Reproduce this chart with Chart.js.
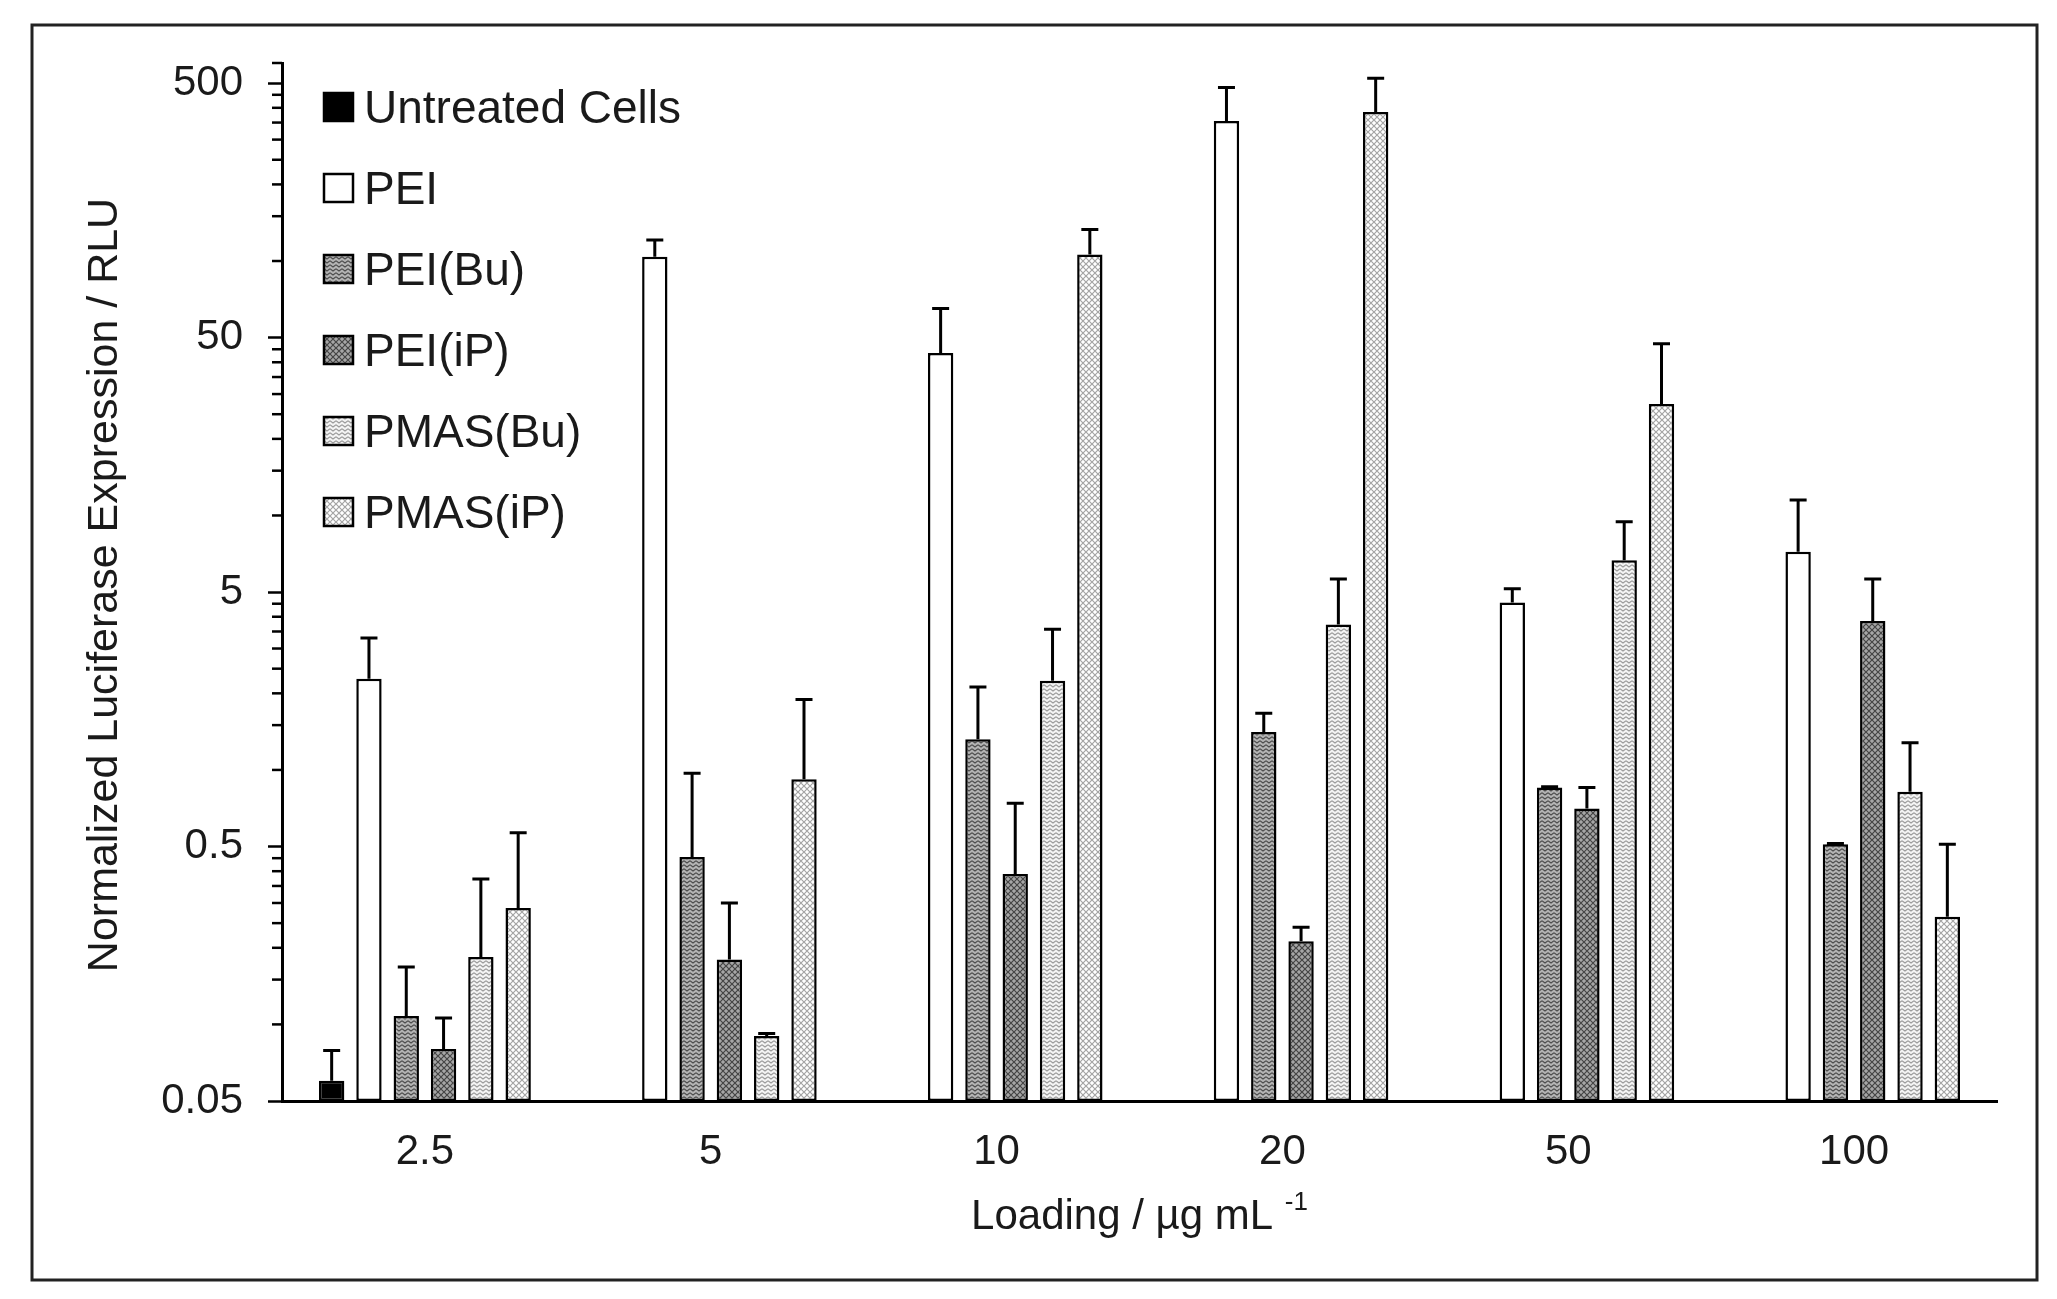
<!DOCTYPE html>
<html>
<head>
<meta charset="utf-8">
<script src="https://cdn.jsdelivr.net/npm/chart.js@4.4.1/dist/chart.umd.min.js"></script>
<style>
html, body { margin: 0; padding: 0; background: #fff; }
#wrap { width: 2057px; height: 1299px; }
</style>
</head>
<body>
<div id="wrap"><canvas id="lucChart" width="2057" height="1299"></canvas></div>
<script>
// loadings (x categories) and series
const loadings = ['2.5', '5', '10', '20', '50', '100'];
const seriesNames = ['Untreated Cells', 'PEI', 'PEI(Bu)', 'PEI(iP)', 'PMAS(Bu)', 'PMAS(iP)'];

const untreated = [0.06, null, null, null, null, null];
const pei       = [2.28, 104, 43.5, 355, 4.55, 7.2];
const peiBu     = [0.108, 0.455, 1.32, 1.41, 0.854, 0.51];
const peiIP     = [0.080, 0.18, 0.39, 0.212, 0.706, 3.85];
const pmasBu    = [0.184, 0.09, 2.24, 3.73, 6.67, 0.82];
const pmasIP    = [0.287, 0.92, 106, 385, 27.4, 0.265];

// upper error (SD)
const untreatedErr = [0.019, null, null, null, null, null];
const peiErr       = [1.02, 17, 21.5, 126, 0.6, 4.3];
const peiBuErr     = [0.06, 0.515, 0.8, 0.26, 0.005, 0.004];
const peiIPErr     = [0.026, 0.12, 0.35, 0.029, 0.148, 1.78];
const pmasBuErr    = [0.189, 0.002, 1.33, 1.9, 2.78, 0.46];
const pmasIPErr    = [0.279, 0.97, 27, 138, 19.9, 0.245];

const majorTicks = [0.05, 0.5, 5, 50, 500];
const yMin = 0.05, yMax = 600;

const FONT = "'Liberation Sans', Arial, sans-serif";

function zigzag(bg, fg) {
    const c = document.createElement('canvas');
    c.width = 6; c.height = 4;
    const g = c.getContext('2d');
    g.fillStyle = bg; g.fillRect(0, 0, 6, 4);
    g.strokeStyle = fg; g.lineWidth = 1.1;
    g.beginPath();
    g.moveTo(0, 0.8); g.lineTo(3, 3); g.lineTo(6, 0.8);
    g.stroke();
    return g.createPattern(c, 'repeat');
}

function hatch(bg, fg) {
    const c = document.createElement('canvas');
    c.width = 6; c.height = 6;
    const g = c.getContext('2d');
    g.fillStyle = bg; g.fillRect(0, 0, 6, 6);
    g.strokeStyle = fg; g.lineWidth = 1.2;
    g.beginPath();
    g.moveTo(0, 0); g.lineTo(6, 6);
    g.moveTo(6, 0); g.lineTo(0, 6);
    g.stroke();
    return g.createPattern(c, 'repeat');
}

const fills = [
    '#000000',
    '#ffffff',
    zigzag('#b4b4b4', '#4e4e4e'),
    hatch('#a6a6a6', '#444444'),
    zigzag('#f4f4f4', '#9c9c9c'),
    hatch('#ffffff', '#a4a4a4')
];

const seriesData = [untreated, pei, peiBu, peiIP, pmasBu, pmasIP];
const seriesErr = [untreatedErr, peiErr, peiBuErr, peiIPErr, pmasBuErr, pmasIPErr];

const yTicks = [];
majorTicks.forEach(m => {
    yTicks.push(m);
    if (m < 500) for (let k = 2; k <= 9; k++) yTicks.push(m * k);
});
yTicks.push(yMax);

const errorBars = {
    id: 'errorBars',
    afterDatasetsDraw(chart) {
        const ctx = chart.ctx, y = chart.scales.y;
        ctx.save();
        ctx.strokeStyle = '#000';
        ctx.lineWidth = 3;
        chart.data.datasets.forEach((ds, i) => {
            chart.getDatasetMeta(i).data.forEach((bar, j) => {
                const v = ds.data[j], e = ds.errors[j];
                if (v == null || e == null) return;
                const top = y.getPixelForValue(v + e);
                ctx.beginPath();
                ctx.moveTo(bar.x, bar.y);
                ctx.lineTo(bar.x, top);
                ctx.moveTo(bar.x - 8.5, top);
                ctx.lineTo(bar.x + 8.5, top);
                ctx.stroke();
            });
        });
        ctx.restore();
    }
};

const decorations = {
    id: 'decorations',
    beforeDraw(chart) {
        const ctx = chart.ctx;
        ctx.save();
        ctx.fillStyle = '#fff';
        ctx.fillRect(0, 0, chart.width, chart.height);
        ctx.restore();
    },
    afterDraw(chart) {
        const ctx = chart.ctx, y = chart.scales.y, ca = chart.chartArea;
        ctx.save();
        // minor ticks
        ctx.strokeStyle = '#000';
        ctx.lineWidth = 2.5;
        y.ticks.forEach(t => {
            if (majorTicks.includes(t.value)) return;
            const p = y.getPixelForValue(t.value);
            ctx.beginPath();
            ctx.moveTo(y.right - 10, p);
            ctx.lineTo(y.right, p);
            ctx.stroke();
        });

        // outer frame
        ctx.strokeStyle = '#222';
        ctx.lineWidth = 3;
        ctx.strokeRect(32, 25, 2005, 1255);

        // y title
        ctx.fillStyle = '#1a1a1a';
        ctx.font = '43px ' + FONT;
        ctx.save();
        ctx.translate(105, (ca.top + ca.bottom) / 2 + 3);
        ctx.rotate(-Math.PI / 2);
        ctx.textAlign = 'center';
        ctx.textBaseline = 'middle';
        ctx.fillText('Normalized Luciferase Expression / RLU', 0, 0);
        ctx.restore();

        // x title with superscript
        const main = 'Loading / \u00b5g mL ', sup = '-1';
        ctx.font = '42px ' + FONT;
        const w1 = ctx.measureText(main).width;
        ctx.font = '26px ' + FONT;
        const w2 = ctx.measureText(sup).width;
        const x0 = (ca.left + ca.right) / 2 - (w1 + w2) / 2;
        ctx.textAlign = 'left';
        ctx.textBaseline = 'alphabetic';
        ctx.font = '42px ' + FONT;
        ctx.fillText(main, x0, 1229);
        ctx.font = '26px ' + FONT;
        ctx.fillText(sup, x0 + w1, 1210);

        // legend
        ctx.font = '46px ' + FONT;
        ctx.textBaseline = 'middle';
        chart.data.datasets.forEach((ds, i) => {
            const cy = 108 + i * 81;
            ctx.fillStyle = ds.backgroundColor;
            ctx.fillRect(324, cy - 15, 29, 28);
            ctx.strokeStyle = '#000';
            ctx.lineWidth = 2.5;
            ctx.strokeRect(324, cy - 15, 29, 28);
            ctx.fillStyle = '#1a1a1a';
            ctx.fillText(ds.label, 364, cy + 2);
        });
        ctx.restore();
    }
};

const ctx = document.getElementById('lucChart').getContext('2d');
new Chart(ctx, {
    type: 'bar',
    data: {
        labels: loadings,
        datasets: seriesNames.map((name, i) => ({
            label: name,
            data: seriesData[i],
            errors: seriesErr[i],
            backgroundColor: fills[i],
            borderColor: '#000',
            borderWidth: 2.5,
            borderSkipped: false,
            categoryPercentage: 0.783,
            barPercentage: 0.68
        }))
    },
    options: {
        responsive: false,
        animation: false,
        devicePixelRatio: 1,
        layout: { padding: { left: 0, top: 63, right: 60, bottom: 0 } },
        scales: {
            x: {
                grid: { display: false, drawTicks: false },
                border: { display: true, color: '#000', width: 3 },
                ticks: { color: '#1a1a1a', font: { family: FONT, size: 42 }, padding: 26, maxRotation: 0 },
                afterFit: s => { s.height = 198; }
            },
            y: {
                type: 'logarithmic',
                min: yMin,
                max: yMax,
                afterBuildTicks: s => { s.ticks = yTicks.map(v => ({ value: v })); },
                grid: {
                    drawOnChartArea: false,
                    tickLength: 14,
                    tickWidth: 2.5,
                    tickColor: c => (c.tick && majorTicks.includes(c.tick.value)) ? '#000' : 'rgba(0,0,0,0)'
                },
                border: { display: true, color: '#000', width: 3 },
                ticks: {
                    autoSkip: false,
                    color: '#1a1a1a',
                    font: { family: FONT, size: 42 },
                    padding: 25,
                    callback: v => majorTicks.includes(v) ? String(v) : ''
                },
                afterFit: s => { s.width = 282; }
            }
        },
        plugins: {
            legend: { display: false },
            tooltip: { enabled: false }
        }
    },
    plugins: [errorBars, decorations]
});
</script>
</body>
</html>
